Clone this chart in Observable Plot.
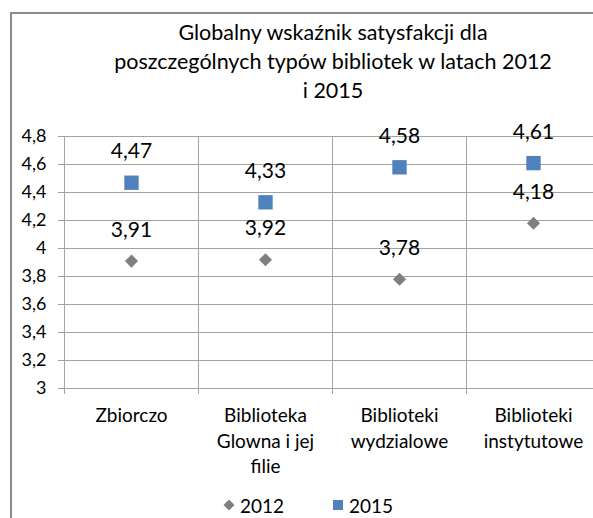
<!DOCTYPE html>
<html><head><meta charset="utf-8">
<script src="https://cdn.jsdelivr.net/npm/d3@7"></script>
<script src="https://cdn.jsdelivr.net/npm/@observablehq/plot@0.6"></script>
<style>
html,body{margin:0;padding:0;background:#fff;overflow:hidden;width:593px;height:518px}
body{position:relative;font-family:Lato,"Open Sans",sans-serif;color:#000}
#frame{position:absolute;left:10px;top:12px;width:700px;height:600px;border-left:2px solid #8c8c8c;border-top:2px solid #8c8c8c;box-sizing:border-box}
#title{position:absolute;left:0;top:18px;width:666px;text-align:center;font-size:21.5px;line-height:29px}
#chart{position:absolute;left:0;top:110px}
#legend{position:absolute;left:0;top:493px;width:593px;height:24px;font-size:19px}
#legend .item{position:absolute;top:0;display:flex;align-items:center;height:24px}
#legend svg{margin-right:5px}
</style>
</head><body>
<div id="frame"></div>
<div id="title">Globalny wskaźnik satysfakcji dla<br>poszczególnych typów bibliotek w latach 2012<br>i 2015</div>
<div id="chart"></div>
<div id="legend"></div>
<script>
const categories = ["Zbiorczo", "Biblioteka\nGlowna i jej\nfilie", "Biblioteki\nwydzialowe", "Biblioteki\ninstytutowe"];
const values2012 = [3.91, 3.92, 3.78, 4.18];
const values2015 = [4.47, 4.33, 4.58, 4.61];
const series = ["2012", "2015"];
const yTicks = [3, 3.2, 3.4, 3.6, 3.8, 4, 4.2, 4.4, 4.6, 4.8];

const colors = {"2012": "#7f7f7f", "2015": "#4f81bd"};
const fmt = d => String(d).replace(".", ",");

const rows = [];
categories.forEach((c, i) => {
  rows.push({i, cat: c, series: "2012", value: values2012[i]});
  rows.push({i, cat: c, series: "2015", value: values2015[i]});
});
const boundaries = d3.range(categories.length + 1);
const centers = categories.map((c, i) => i + 0.5);

const grid = "#a3a3a3";
const chart = Plot.plot({
  width: 593,
  height: 375,
  marginTop: 26,
  marginBottom: 97,
  marginLeft: 64,
  marginRight: 0,
  style: {fontFamily: "Lato, 'Open Sans', sans-serif", color: "#000", background: "transparent"},
  x: {type: "linear", domain: [0, categories.length], range: [64, 600]},
  y: {domain: [3, 4.8]},
  marks: [
    Plot.gridY(yTicks, {stroke: grid, strokeOpacity: 1}),
    Plot.gridX(boundaries.slice(1), {stroke: grid, strokeOpacity: 1}),
    Plot.ruleX([0], {stroke: grid}),
    Plot.axisY(yTicks, {tickSize: 6, tickPadding: 12, tickFormat: fmt, fontSize: 18, stroke: grid, strokeOpacity: 1, label: null}),
    Plot.axisX(boundaries, {tickSize: 6, tickFormat: () => "", stroke: grid, strokeOpacity: 1, label: null}),
    Plot.axisX(centers, {tickSize: 0, tickPadding: 16, tickFormat: d => categories[Math.floor(d)], fontSize: 19, lineHeight: 1.33, label: null}),
    Plot.dot(rows.filter(d => d.series === "2012"), {x: d => d.i + 0.5, y: "value", symbol: "diamond2", r: 5.9, fill: colors["2012"], stroke: null}),
    Plot.dot(rows.filter(d => d.series === "2015"), {x: d => d.i + 0.5, y: "value", symbol: "square", r: 8.1, fill: colors["2015"], stroke: null}),
    Plot.text(rows, {x: d => d.i + 0.5, y: "value", text: d => fmt(d.value), dy: -31, fontSize: 21, fill: "#000"})
  ]
});
document.getElementById("chart").appendChild(chart);

// legend
const legend = d3.select("#legend");
const legendPos = {"2012": 223, "2015": 332};
series.forEach(s => {
  const item = legend.append("div").attr("class", "item").style("left", legendPos[s] + "px");
  const svg = item.append("svg").attr("width", 12).attr("height", 12);
  if (s === "2012") {
    svg.append("path").attr("d", "M6,0.5L11.5,6L6,11.5L0.5,6Z").attr("fill", colors[s]);
  } else {
    svg.append("rect").attr("x", 1).attr("y", 1).attr("width", 10).attr("height", 10).attr("fill", colors[s]);
  }
  item.append("span").text(s);
});
</script>
</body></html>
